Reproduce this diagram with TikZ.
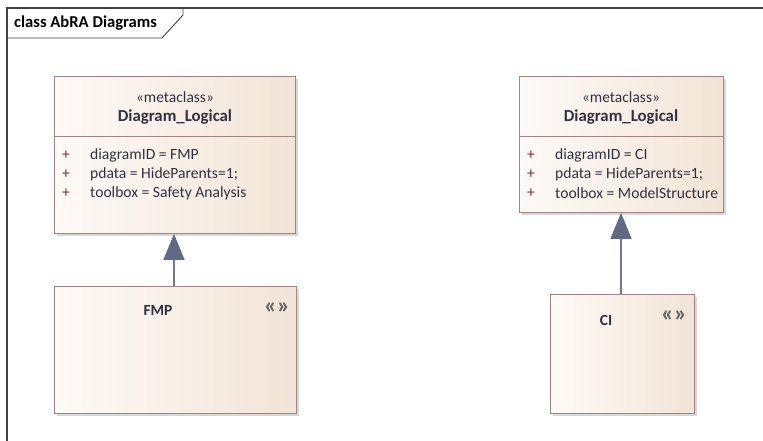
\documentclass[tikz,border=0pt]{standalone}
\usepackage{fontspec}
\setmainfont{Carlito}
\usetikzlibrary{arrows.meta,shadows}
\definecolor{frameline}{RGB}{64,64,64}
\definecolor{boxline}{RGB}{160,132,132}
\definecolor{boxleft}{RGB}{254,250,247}
\definecolor{boxright}{RGB}{242,228,214}
\definecolor{shadowgray}{RGB}{216,216,216}
\definecolor{txt}{RGB}{48,48,64}
\definecolor{plus}{RGB}{110,50,50}
\definecolor{genline}{RGB}{110,120,150}
\definecolor{genfill}{RGB}{94,106,134}
\definecolor{icongray}{RGB}{100,100,100}
\tikzset{
  umlbox/.style={draw=boxline, line width=0.9pt, rectangle, anchor=north west,
    left color=boxleft, right color=boxright, inner sep=0pt,
    drop shadow={shadow xshift=3pt, shadow yshift=-3pt, fill=shadowgray, opacity=1}},
  stereo/.style={text=txt, font=\fontsize{15.5}{17}\selectfont, inner sep=0pt},
  cname/.style={text=txt, font=\fontsize{16.8}{18}\selectfont\bfseries, inner sep=0pt},
  attr/.style={text=txt, font=\fontsize{15.6}{17}\selectfont, anchor=west, inner sep=0pt},
  pl/.style={text=plus, font=\fontsize{15.6}{17}\selectfont, inner sep=0pt},
  divider/.style={draw=boxline, line width=0.9pt},
  generalize/.style={draw=genline, line width=1.4pt,
    -{Triangle[width=21pt,length=26pt,fill=genfill,color=genfill]}},
  diagicon/.style={text=icongray, font=\fontsize{24}{26}\selectfont\bfseries, inner sep=0pt},
  frameborder/.style={draw=frameline, line width=1.3pt}
}
\begin{document}
\begin{tikzpicture}[x=1pt,y=-1pt]
\useasboundingbox (0,0) rectangle (763,441);

% diagram frame with its name tab
\draw[frameborder] (7,441) -- (7,8) -- (763,8);
\draw[frameline, line width=0.9pt] (7,38) -- (162,38) -- (183,15) -- (183,8);
\node[anchor=west, inner sep=0pt, font=\fontsize{16.6}{18}\selectfont\bfseries, text=black] (title) at (14,23) {class AbRA Diagrams};

% left metaclass
\node[umlbox, minimum width=241pt, minimum height=157pt] (mcA) at (54,76) {};
\draw[divider] (54,136) -- (295,136);
\node[stereo] (mcAst) at (175,97) {«metaclass»};
\node[cname] (mcAname) at (175,117) {Diagram\_Logical};
\node[pl] (pA1) at (66,155) {+};
\node[pl] (pA2) at (66,174) {+};
\node[pl] (pA3) at (66,193) {+};
\node[attr] (aA1) at (90,155) {diagramID = FMP};
\node[attr] (aA2) at (90,174) {pdata = HideParents=1;};
\node[attr] (aA3) at (90,193) {toolbox = Safety Analysis};

% right metaclass
\node[umlbox, minimum width=204pt, minimum height=136pt] (mcB) at (519,76) {};
\draw[divider] (519,136) -- (723,136);
\node[stereo] (mcBst) at (621,97) {«metaclass»};
\node[cname] (mcBname) at (621,117) {Diagram\_Logical};
\node[pl] (pB1) at (531,155) {+};
\node[pl] (pB2) at (531,174) {+};
\node[pl] (pB3) at (531,193) {+};
\node[attr] (aB1) at (555,155) {diagramID = CI};
\node[attr] (aB2) at (555,174) {pdata = HideParents=1;};
\node[attr] (aB3) at (555,193) {toolbox = ModelStructure};

% diagram elements
\node[umlbox, minimum width=242pt, minimum height=127pt] (fmp) at (54,286) {};
\node[cname, font=\fontsize{15.5}{17}\selectfont\bfseries] (fmpname) at (158,310) {FMP};
\node[diagicon] (fmpicon) at (277,308) {«»};

\node[umlbox, minimum width=144pt, minimum height=119pt] (ci) at (550,294) {};
\node[cname, font=\fontsize{15.5}{17}\selectfont\bfseries] (ciname) at (606,320) {CI};
\node[diagicon] (ciicon) at (674,316) {«»};

% generalizations
\draw[generalize] (fmp.north -| 174,0) -- (mcA.south -| 174,0);
\draw[generalize] (ci.north -| 621,0) -- (mcB.south -| 621,0);
\end{tikzpicture}
\end{document}
